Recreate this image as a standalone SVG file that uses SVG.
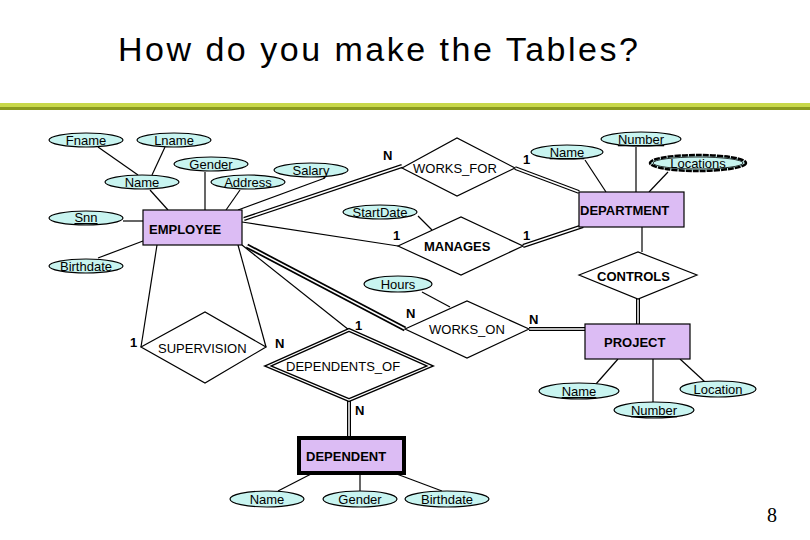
<svg xmlns="http://www.w3.org/2000/svg" width="810" height="540" viewBox="0 0 810 540">
<style>
text{font-family:"Liberation Sans",Arial,sans-serif;font-size:13px;fill:#000}
.t{font-size:34px;letter-spacing:2.5px}
.pg{font-family:"Liberation Serif",serif;font-size:20px}
.a ellipse{fill:#c8f4f0;stroke:#000;stroke-width:1.2}
.a text{text-anchor:middle}
.e rect{fill:#dcbcf4;stroke:#000;stroke-width:1.2}
.e text{font-weight:bold}
.r polygon{fill:#fff;stroke:#000;stroke-width:1.2}
.b{font-weight:bold}
.c line{stroke:#000;stroke-width:1.2}
.lbl{font-weight:bold}
</style>
<rect width="810" height="540" fill="#fff"/>
<text class="t" x="118" y="61">How do you make the Tables?</text>
<rect x="0" y="103" width="810" height="4" fill="#c8d84a"/>
<rect x="0" y="107" width="810" height="3" fill="#8a9a20"/>
<g class="c">
<line x1="98" y1="147" x2="138" y2="175"/><line x1="165" y1="147" x2="152" y2="175"/>
<line x1="150" y1="190" x2="168" y2="210"/><line x1="205" y1="172" x2="205" y2="210"/>
<line x1="240" y1="190" x2="226" y2="210"/><line x1="325" y1="178" x2="238" y2="210"/>
<line x1="123" y1="221" x2="143" y2="221"/><line x1="98" y1="258" x2="143" y2="241"/>
<line x1="244" y1="219" x2="402" y2="166" style="stroke-width:4"/><line x1="244" y1="219" x2="402" y2="166" style="stroke:#fff;stroke-width:1.5"/>
<line x1="515" y1="168" x2="579" y2="192" style="stroke-width:4"/><line x1="515" y1="168" x2="579" y2="192" style="stroke:#fff;stroke-width:1.5"/>
<line x1="242" y1="222" x2="398" y2="246"/>
<line x1="523" y1="246" x2="583" y2="226" style="stroke-width:4"/><line x1="523" y1="246" x2="583" y2="226" style="stroke:#fff;stroke-width:1.5"/>
<line x1="418" y1="216" x2="432" y2="230"/>
<line x1="585" y1="160" x2="606" y2="192"/><line x1="636" y1="147" x2="636" y2="192"/><line x1="668" y1="172" x2="649" y2="192"/>
<line x1="642" y1="227" x2="642" y2="252"/>
<line x1="638" y1="299" x2="638" y2="324" style="stroke-width:4"/><line x1="638" y1="299" x2="638" y2="324" style="stroke:#fff;stroke-width:1.5"/>
<line x1="247" y1="246" x2="405" y2="329" style="stroke-width:5"/><line x1="247" y1="246" x2="405" y2="329" style="stroke:#fff;stroke-width:1.5"/>
<line x1="422" y1="292" x2="450" y2="307"/>
<line x1="529" y1="329" x2="585" y2="329" style="stroke-width:4"/><line x1="529" y1="329" x2="585" y2="329" style="stroke:#fff;stroke-width:1.5"/>
<line x1="157" y1="245" x2="141" y2="347"/><line x1="238" y1="245" x2="266" y2="347"/>
<line x1="242" y1="245" x2="349" y2="330"/>
<line x1="349" y1="400" x2="349" y2="438" style="stroke-width:4"/><line x1="349" y1="400" x2="349" y2="438" style="stroke:#fff;stroke-width:1.5"/>
<line x1="313" y1="473" x2="278" y2="491"/><line x1="360" y1="473" x2="360" y2="491"/><line x1="394" y1="473" x2="442" y2="491"/>
<line x1="618" y1="359" x2="596" y2="384"/><line x1="653" y1="359" x2="653" y2="402"/><line x1="680" y1="359" x2="705" y2="382"/>
</g>
<g class="a" id="fname"><ellipse cx="86" cy="140" rx="37" ry="7"/><text x="86" y="145">Fname</text></g>
<g class="a" id="lname"><ellipse cx="174" cy="140" rx="37" ry="7"/><text x="174" y="145">Lname</text></g>
<g class="a" id="gender"><ellipse cx="211" cy="164" rx="37" ry="7"/><text x="211" y="169">Gender</text></g>
<g class="a" id="salary"><ellipse cx="311" cy="170" rx="37" ry="7"/><text x="311" y="175">Salary</text></g>
<g class="a" id="name"><ellipse cx="142" cy="182" rx="37" ry="7"/><text x="142" y="187">Name</text></g>
<g class="a" id="address"><ellipse cx="248" cy="182" rx="37" ry="7"/><text x="248" y="187">Address</text></g>
<g class="a" id="snn"><ellipse cx="86" cy="218" rx="37" ry="7"/><text x="86" y="222" text-decoration="underline">Snn</text></g>
<g class="a" id="birthdate"><ellipse cx="86" cy="266" rx="37" ry="7"/><text x="86" y="271">Birthdate</text></g>
<g class="e" id="employee"><rect x="143" y="210" width="99" height="35"/><text x="149" y="234">EMPLOYEE</text></g>
<g class="r" id="works_for"><polygon points="402,168 457,138 515,168 457,196"/><text x="413" y="173">WORKS_FOR</text></g>
<g class="a" id="dname"><ellipse cx="567" cy="152" rx="36" ry="7"/><text x="567" y="157" text-decoration="underline">Name</text></g>
<g class="a" id="dnumber"><ellipse cx="641" cy="139" rx="40" ry="7"/><text x="641" y="144" text-decoration="underline">Number</text></g>
<g class="a" id="locations"><ellipse cx="698" cy="163" rx="48" ry="8" style="stroke-width:2.5;stroke-dasharray:6 1"/><ellipse cx="698" cy="163" rx="45" ry="6" style="stroke-width:0.8"/><text x="698" y="168">Locations</text></g>
<g class="e" id="department"><rect x="579" y="192" width="105" height="35"/><text x="580" y="215">DEPARTMENT</text></g>
<g class="a" id="startdate"><ellipse cx="380" cy="212" rx="37" ry="7"/><text x="380" y="217">StartDate</text></g>
<g class="r" id="manages"><polygon points="398,246 461,217 523,246 461,275"/><text x="424" y="251" class="b">MANAGES</text></g>
<g class="r" id="controls"><polygon points="579,275 638,252 697,275 638,299"/><text x="597" y="281" class="b">CONTROLS</text></g>
<g class="a" id="hours"><ellipse cx="398" cy="284" rx="34" ry="8"/><text x="398" y="289">Hours</text></g>
<g class="r" id="works_on"><polygon points="405,329 467,301 529,329 467,358"/><text x="429" y="334">WORKS_ON</text></g>
<g class="e" id="project"><rect x="585" y="324" width="105" height="35"/><text x="604" y="347">PROJECT</text></g>
<g class="r" id="supervision"><polygon points="141,347 205,312 266,347 205,383"/><text x="158" y="353">SUPERVISION</text></g>
<g class="r" id="dependents_of"><polygon points="268,366 349,330 430,366 349,400" style="stroke-width:4"/><polygon points="268,366 349,330 430,366 349,400" style="stroke:#fff;stroke-width:1.2;fill:none"/><text x="286" y="371">DEPENDENTS_OF</text></g>
<g class="a" id="pname"><ellipse cx="579" cy="391" rx="40" ry="8"/><text x="579" y="396" text-decoration="underline">Name</text></g>
<g class="a" id="pnumber"><ellipse cx="654" cy="410" rx="40" ry="8"/><text x="654" y="415" text-decoration="underline">Number</text></g>
<g class="a" id="plocation"><ellipse cx="718" cy="389" rx="38" ry="8"/><text x="718" y="394">Location</text></g>
<g class="e" id="dependent"><rect x="299" y="438" width="105" height="35" style="stroke-width:4"/><text x="306" y="461">DEPENDENT</text></g>
<g class="a" id="dep_name"><ellipse cx="267" cy="499" rx="37" ry="8"/><text x="267" y="504">Name</text></g>
<g class="a" id="dep_gender"><ellipse cx="360" cy="499" rx="37" ry="8"/><text x="360" y="504">Gender</text></g>
<g class="a" id="dep_birthdate"><ellipse cx="447" cy="499" rx="42" ry="8"/><text x="447" y="504">Birthdate</text></g>
<g id="labels">
<text x="383" y="160" class="lbl">N</text><text x="523" y="164" class="lbl">1</text>
<text x="393" y="240" class="lbl">1</text><text x="523" y="240" class="lbl">1</text>
<text x="406" y="318" class="lbl">N</text><text x="529" y="324" class="lbl">N</text>
<text x="130" y="347" class="lbl">1</text><text x="275" y="348" class="lbl">N</text>
<text x="355" y="330" class="lbl">1</text><text x="355" y="415" class="lbl">N</text>
</g>
<text class="pg" x="767" y="522">8</text>
</svg>
